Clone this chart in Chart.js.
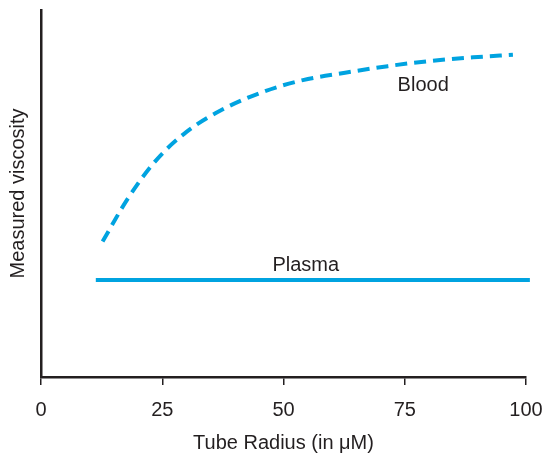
<!DOCTYPE html>
<html>
<head>
<meta charset="utf-8">
<script src="https://cdn.jsdelivr.net/npm/chart.js@4"></script>
<style>
  html, body { margin: 0; padding: 0; background: #fff; }
  #wrap { width: 547px; height: 462px; }
</style>
</head>
<body>
<div id="wrap"><canvas id="viscosityChart"></canvas></div>
<script>
// values (x = tube radius, y = relative viscosity, 0-100)
const bloodRadius = [12.7, 17.7, 23.5, 30.0, 37.3, 45.8, 54.0, 62.7, 71.5, 80.2, 89.1, 97.3];
const bloodViscosity = [36.9, 48.2, 58.7, 66.8, 72.8, 77.7, 80.9, 82.9, 84.7, 86.1, 87.1, 87.8];
const plasmaRadius = [11.3, 100.8];
const plasmaViscosity = [26.4, 26.4];
const xTicks = [0, 25, 50, 75, 100];
const curveLabels = [
    { text: 'Blood', x: 78.8, y: 79.3 },
    { text: 'Plasma', x: 54.6, y: 30.4 }
];

const blue = '#00a3e0';
const ink = '#231f20';
const fontFamily = '"Liberation Sans", Arial, Helvetica, sans-serif';
const fontSize = 20;

function toPoints(xs, ys) {
    return xs.map((x, i) => ({ x: x, y: ys[i] }));
}

// writes the curve names next to the lines
const curveLabelPlugin = {
    id: 'curveLabels',
    afterDatasetsDraw(chart) {
        const ctx = chart.ctx;
        const xs = chart.scales.x;
        const ys = chart.scales.y;
        ctx.save();
        ctx.fillStyle = ink;
        ctx.font = fontSize + 'px ' + fontFamily;
        ctx.textAlign = 'center';
        ctx.textBaseline = 'middle';
        curveLabels.forEach(l => {
            ctx.fillText(l.text, xs.getPixelForValue(l.x), ys.getPixelForValue(l.y));
        });
        ctx.restore();
    }
};

new Chart(document.getElementById('viscosityChart'), {
    type: 'line',
    data: {
        datasets: [
            {
                label: 'Blood',
                data: toPoints(bloodRadius, bloodViscosity),
                borderColor: blue,
                borderWidth: 4,
                borderDash: [12, 7],
                cubicInterpolationMode: 'monotone',
                pointRadius: 0,
                fill: false
            },
            {
                label: 'Plasma',
                data: toPoints(plasmaRadius, plasmaViscosity),
                borderColor: blue,
                borderWidth: 4,
                pointRadius: 0,
                fill: false,
                clip: false
            }
        ]
    },
    options: {
        responsive: true,
        maintainAspectRatio: false,
        animation: false,
        layout: { padding: { top: 10, right: 21, left: 0, bottom: 0 } },
        plugins: {
            legend: { display: false },
            tooltip: { enabled: false }
        },
        scales: {
            x: {
                type: 'linear',
                min: 0,
                max: 100,
                afterBuildTicks: axis => { axis.ticks = xTicks.map(v => ({ value: v })); },
                afterFit: axis => {
                    axis.height = 85;
                    axis.paddingLeft = 0;
                    axis.paddingRight = 0;
                },
                grid: {
                    drawOnChartArea: false,
                    drawTicks: true,
                    tickLength: 8,
                    color: ink,
                    lineWidth: 1.5
                },
                border: { display: true, color: ink, width: 2.5 },
                ticks: {
                    color: ink,
                    font: { family: fontFamily, size: fontSize },
                    padding: 13,
                    maxRotation: 0
                },
                title: {
                    display: true,
                    text: 'Tube Radius (in \u03bcM)',
                    color: ink,
                    font: { family: fontFamily, size: fontSize },
                    padding: { top: 0, bottom: 7 }
                }
            },
            y: {
                type: 'linear',
                min: 0,
                max: 100,
                afterFit: axis => { axis.width = 41; },
                grid: { display: false },
                border: { display: true, color: ink, width: 2.5 },
                ticks: { display: false },
                title: {
                    display: true,
                    text: 'Measured viscosity',
                    color: ink,
                    font: { family: fontFamily, size: fontSize },
                    padding: { top: 6, bottom: 0 }
                }
            }
        }
    },
    plugins: [curveLabelPlugin]
});
</script>
</body>
</html>
